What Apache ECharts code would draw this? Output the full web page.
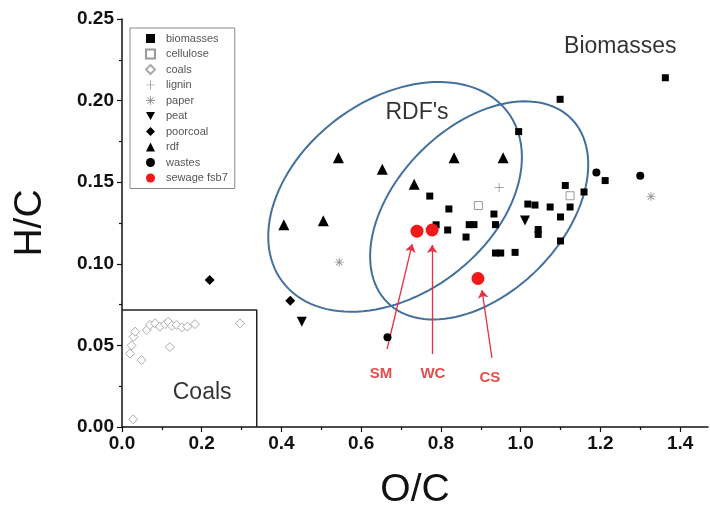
<!DOCTYPE html>
<html><head><meta charset="utf-8">
<script src="https://cdn.jsdelivr.net/npm/echarts@6/dist/echarts.min.js"></script>
<style>html,body{margin:0;padding:0;background:#fff}#c{width:710px;height:519px}</style>
</head><body><div id="c"></div>
<script>
// ---- data (O/C, H/C) ----
const biomasses = [[1.363,0.214],[1.099,0.2008],[0.995,0.181],[0.772,0.1415],[0.82,0.1336],[0.894,0.1357],[0.933,0.1305],[0.937,0.124],[1.018,0.1366],[1.036,0.136],[1.074,0.1348],[1.124,0.1348],[1.212,0.151],[1.044,0.121],[1.044,0.118],[1.10,0.1287],[1.10,0.114],[0.871,0.124],[0.883,0.124],[0.817,0.1207],[0.863,0.1164],[0.937,0.1066],[0.95,0.1066],[0.986,0.107],[1.159,0.144],[1.112,0.148],[0.788,0.1239]];
const cellulose = [[1.124,0.1417],[0.894,0.1357]];
const coals = [[0.029,0.0553],[0.024,0.050],[0.020,0.045],[0.033,0.0584],[0.049,0.041],[0.062,0.0594],[0.070,0.0625],[0.083,0.0635],[0.095,0.0615],[0.108,0.063],[0.116,0.0645],[0.125,0.062],[0.137,0.0625],[0.150,0.061],[0.164,0.0615],[0.183,0.063],[0.120,0.049],[0.296,0.0635],[0.028,0.0047]];
const lignin = [[0.946,0.1468]];
const paper = [[0.545,0.101],[1.327,0.1413]];
const peat = [[0.451,0.0645],[1.011,0.1265]];
const poorcoal = [[0.422,0.0774],[0.22,0.090]];
const rdf = [[0.543,0.165],[0.653,0.158],[0.733,0.1487],[0.833,0.165],[0.956,0.165],[0.406,0.124],[0.505,0.1264]];
const wastes = [[1.19,0.156],[1.30,0.154],[0.666,0.055]];
const sewage = [[0.74,0.120],[0.778,0.1207],[0.893,0.091]];
const seriesNames = ['biomasses','cellulose','coals','lignin','paper','peat','poorcoal','rdf','wastes','sewage fsb7'];

const xMajorTicks = [0,0.2,0.4,0.6,0.8,1.0,1.2,1.4];
const xMinorTicks = [0.1,0.3,0.5,0.7,0.9,1.1,1.3];

// annotations (data units)
const coalsBox = [[0,0.0717],[0.338,0.0717],[0.338,0]];
const arrows = [
  [[0.665,0.0478],[0.728,0.1121]],
  [[0.778,0.0447],[0.778,0.1115]],
  [[0.928,0.0423],[0.903,0.0839]]
];
const regionLabels = [['Biomasses',1.250,0.2328],["RDF's",0.740,0.1924],['Coals',0.201,0.0208]];
const sampleLabels = [['SM',0.650,0.0325],['WC',0.780,0.0325],['CS',0.923,0.030]];
// ellipses: centre in data units, semi-axes in px, tilt in degrees
const ellipses = [
  {c:[0.685,0.141], a:141, b:97, deg:37},
  {c:[0.896,0.1327], a:130, b:83, deg:45}
];

const FONT = 'Liberation Sans, Arial, sans-serif';
const RED = '#f01818';
const chart = echarts.init(document.getElementById('c'));

const sq = 'rect';
const plusPath = 'path://M4.6,0H5.4V10H4.6Z M0,4.6H10V5.4H0Z';
const starPath = 'path://M4.5,0H5.5V10H4.5Z M0,4.5H10V5.5H0Z M1.1,1.8L1.8,1.1L8.9,8.2L8.2,8.9Z M8.2,1.1L8.9,1.8L1.8,8.9L1.1,8.2Z';
const downTri = 'path://M0,0L10,0L5,9Z';

function sc(name, data, symbol, size, style) {
  return {type:'scatter', name, data, symbol, symbolSize:size, itemStyle:Object.assign({opacity:1}, style), z:5, emphasis:{disabled:true}};
}

chart.setOption({
  animation:false,
  backgroundColor:'#fff',
  grid:{left:122, right:2, top:19, bottom:92, containLabel:false},
  legend:{
    data:seriesNames, orient:'vertical', left:130, top:28,
    padding:[5,7,5,15], itemWidth:9, itemHeight:9, itemGap:4.5,
    borderColor:'#888', borderWidth:1,
    textStyle:{fontFamily:FONT, fontSize:11, color:'#555', lineHeight:10, padding:[0,0,0,6]},
    selectedMode:false
  },
  xAxis:[{
    type:'value', min:0, max:1.47,
    axisLine:{show:true, lineStyle:{color:'#111', width:1.5}},
    axisTick:{show:true, length:5, customValues:xMajorTicks, lineStyle:{color:'#111', width:1.2}},
    axisLabel:{customValues:xMajorTicks, formatter:v=>v.toFixed(1), fontFamily:FONT, fontWeight:'bold', fontSize:19, color:'#111', margin:7},
    splitLine:{show:false},
    name:'O/C', nameLocation:'middle', nameGap:44,
    nameTextStyle:{fontFamily:FONT, fontSize:39, color:'#111'}
  },{
    type:'value', min:0, max:1.47, position:'bottom',
    axisLine:{show:false},
    axisTick:{show:true, length:3, customValues:xMinorTicks, lineStyle:{color:'#111', width:1.2}},
    axisLabel:{show:false}, splitLine:{show:false}
  }],
  yAxis:{
    type:'value', min:0, max:0.25, interval:0.05,
    axisLine:{show:true, lineStyle:{color:'#111', width:1.5}},
    axisTick:{show:true, length:5, lineStyle:{color:'#111', width:1.2}},
    minorTick:{show:true, splitNumber:2, length:3, lineStyle:{color:'#111', width:1.2}},
    axisLabel:{formatter:v=>v.toFixed(2), fontFamily:FONT, fontWeight:'bold', fontSize:19, color:'#111', margin:8},
    splitLine:{show:false},
    name:'H/C', nameLocation:'middle', nameGap:72,
    nameTextStyle:{fontFamily:FONT, fontSize:39, color:'#111'}
  },
  series:[
    {type:'custom', name:'ellipses', z:2, silent:true,
     data:ellipses.map(e=>e.c),
     renderItem:function(params, api){
       const e = ellipses[params.dataIndex];
       const c = api.coord([api.value(0), api.value(1)]);
       const th = e.deg*Math.PI/180, pts=[];
       for (let i=0;i<=120;i++){
         const t = i/120*2*Math.PI;
         const ux = e.a*Math.cos(t), vy = e.b*Math.sin(t);
         pts.push([c[0] + ux*Math.cos(th) - vy*Math.sin(th), c[1] - (ux*Math.sin(th) + vy*Math.cos(th))]);
       }
       return {type:'polyline', shape:{points:pts}, style:{fill:null, stroke:'#44709c', lineWidth:2}};
     }},
    {type:'line', name:'coalsbox', data:coalsBox, symbol:'none', silent:true, z:2,
     lineStyle:{color:'#222', width:1.5}},
    {type:'lines', name:'arrows', coordinateSystem:'cartesian2d', z:4, silent:true,
     symbol:['none','arrow'], symbolSize:8,
     lineStyle:{color:'#e83040', width:1.3, opacity:1},
     data:arrows.map(a=>({coords:a}))},
    sc('biomasses', biomasses, sq, 7, {color:'#000'}),
    sc('cellulose', cellulose, sq, 8, {color:'#fff', borderColor:'#999', borderWidth:1}),
    sc('coals', coals, 'diamond', 9, {color:'#fff', borderColor:'#aaa', borderWidth:1}),
    sc('lignin', lignin, plusPath, 9, {color:'#888'}),
    sc('paper', paper, starPath, 9, {color:'#999'}),
    sc('peat', peat, downTri, 10, {color:'#000'}),
    sc('poorcoal', poorcoal, 'diamond', 10, {color:'#000'}),
    sc('rdf', rdf, 'triangle', 11, {color:'#000'}),
    sc('wastes', wastes, 'circle', 8, {color:'#000'}),
    sc('sewage fsb7', sewage, 'circle', 13, {color:RED}),
    {type:'scatter', name:'regionLabels', symbolSize:0, silent:true, z:6,
     data:regionLabels.map(r=>({name:r[0], value:[r[1],r[2]]})),
     label:{show:true, position:'inside', formatter:'{b}', fontFamily:FONT, fontSize:23, color:'#000'}},
    {type:'scatter', name:'sampleLabels', symbolSize:0, silent:true, z:6,
     data:sampleLabels.map(r=>({name:r[0], value:[r[1],r[2]]})),
     label:{show:true, position:'inside', formatter:'{b}', fontFamily:FONT, fontSize:15, fontWeight:'bold', color:'#dd2020'}}
  ]
});
</script></body></html>
